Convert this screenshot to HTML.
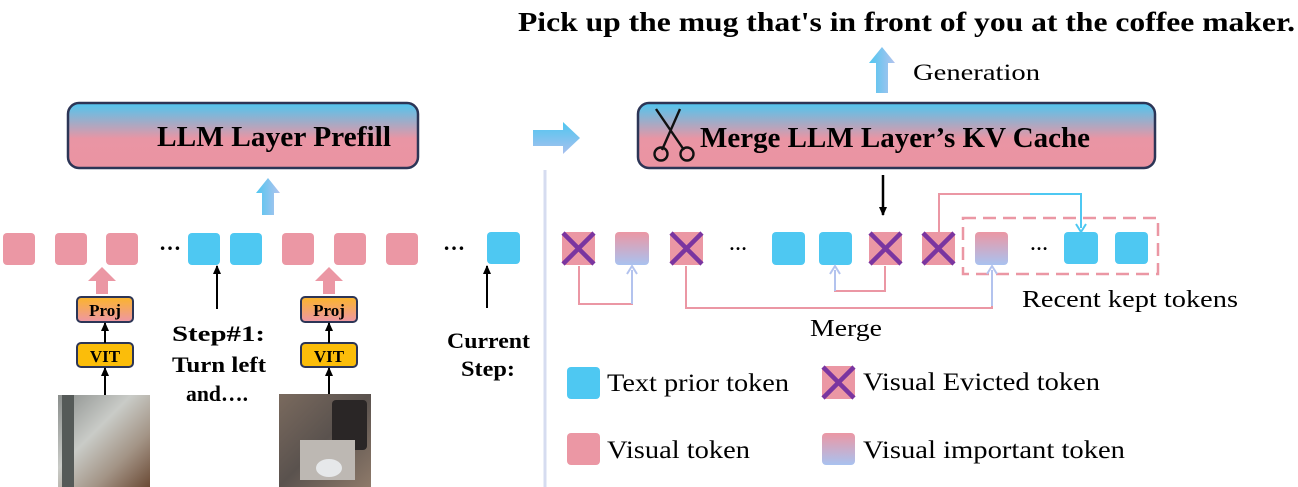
<!DOCTYPE html>
<html><head><meta charset="utf-8"><style>
body{margin:0;background:#fff;width:1298px;height:487px;overflow:hidden}
svg{display:block}
.b{font-family:"Liberation Serif",serif;font-weight:bold}
.r{font-family:"Liberation Serif",serif}
</style></head><body>
<svg width="1298" height="487" viewBox="0 0 1298 487" xmlns="http://www.w3.org/2000/svg">
<defs>
<linearGradient id="box" x1="0" y1="0" x2="0" y2="1"><stop offset="0" stop-color="#4ec6f0"/><stop offset="0.55" stop-color="#e995a4"/><stop offset="1" stop-color="#eb94a2"/></linearGradient>
<linearGradient id="gt" x1="0" y1="0" x2="0" y2="1"><stop offset="0" stop-color="#eb97a4"/><stop offset="1" stop-color="#a9c2f0"/></linearGradient>
<linearGradient id="proj" x1="0" y1="0" x2="0" y2="1"><stop offset="0" stop-color="#fbb52a"/><stop offset="1" stop-color="#ee96a6"/></linearGradient>
<linearGradient id="ua" x1="0" y1="0" x2="1" y2="0"><stop offset="0" stop-color="#4ec6f0"/><stop offset="1" stop-color="#b3c3ee"/></linearGradient>
<linearGradient id="ra" x1="0" y1="0" x2="0" y2="1"><stop offset="0" stop-color="#4ec6f0"/><stop offset="1" stop-color="#a9c0ee"/></linearGradient>
<linearGradient id="img1" x1="0" y1="0" x2="1" y2="1"><stop offset="0" stop-color="#8a8e8c"/><stop offset="0.4" stop-color="#c9cbc7"/><stop offset="0.7" stop-color="#a39486"/><stop offset="1" stop-color="#6b4a35"/></linearGradient>
<linearGradient id="img2" x1="0" y1="0" x2="1" y2="1"><stop offset="0" stop-color="#7a6a5e"/><stop offset="0.5" stop-color="#5a524e"/><stop offset="1" stop-color="#8e7a6a"/></linearGradient>
<marker id="ak" markerWidth="9" markerHeight="8" refX="8" refY="4" orient="auto" markerUnits="userSpaceOnUse"><path d="M0,0 L9,4 L0,8z" fill="#000"/></marker>
</defs>

<text x="518" y="31" class="b" font-size="27" textLength="777" lengthAdjust="spacingAndGlyphs">Pick up the mug that's in front of you at the coffee maker.</text>

<rect x="68" y="103" width="350" height="65" rx="11" fill="url(#box)" stroke="#2c3556" stroke-width="2.5"/>
<text x="157" y="146" class="b" font-size="28" textLength="234" lengthAdjust="spacingAndGlyphs">LLM Layer Prefill</text>
<rect x="638" y="103" width="517" height="65" rx="11" fill="url(#box)" stroke="#2c3556" stroke-width="2.5"/>
<text x="700" y="147" class="b" font-size="29" textLength="390" lengthAdjust="spacingAndGlyphs">Merge LLM Layer’s KV Cache</text>
<g stroke="#111" stroke-width="2.4" fill="none">
<path d="M656 109 L684 150 M680 109 L662 150"/>
<circle cx="661" cy="154" r="6.5"/><circle cx="687" cy="154" r="6.5"/>
</g>

<path d="M533 130 H563 V122 L580 138 L563 154 V146 H533z" fill="url(#ra)"/>
<path d="M876 93 V63 H869 L882 47 L895 63 H888 V93z" fill="url(#ua)"/>
<text x="913" y="80" class="r" font-size="23" textLength="127" lengthAdjust="spacingAndGlyphs">Generation</text>
<path d="M262 215 V193 H256 L268 178 L280 193 H274 V215z" fill="url(#ua)"/>

<line x1="545" y1="170" x2="545" y2="487" stroke="#d6dcf0" stroke-width="3"/>

<g fill="#eb97a4">
<rect x="3" y="233" width="32" height="32" rx="4"/><rect x="55" y="233" width="32" height="32" rx="4"/><rect x="106" y="233" width="32" height="32" rx="4"/>
<rect x="282" y="233" width="32" height="32" rx="4"/><rect x="334" y="233" width="32" height="32" rx="4"/><rect x="386" y="233" width="32" height="32" rx="4"/>
</g>
<g fill="#4ec8f2">
<rect x="188" y="233" width="32" height="32" rx="4"/><rect x="230" y="233" width="32" height="32" rx="4"/><rect x="487" y="232" width="33" height="32" rx="4"/>
</g>
<text x="170" y="250" class="b" font-size="22" text-anchor="middle">…</text>
<text x="454" y="250" class="b" font-size="22" text-anchor="middle">…</text>

<path d="M96 294 V281 H88 L102 267 L116 281 H108 V294z" fill="#eb97a4"/>
<path d="M323 294 V281 H315 L329 267 L343 281 H335 V294z" fill="#eb97a4"/>

<rect x="77" y="297" width="56" height="25" rx="4" fill="url(#proj)" stroke="#2c3556" stroke-width="2"/>
<text x="105" y="316" class="b" font-size="17" text-anchor="middle">Proj</text>
<rect x="77" y="343" width="56" height="24" rx="4" fill="#fbbd0a" stroke="#2c3556" stroke-width="2"/>
<text x="105" y="362" class="b" font-size="17" text-anchor="middle">VIT</text>
<rect x="301" y="297" width="56" height="25" rx="4" fill="url(#proj)" stroke="#2c3556" stroke-width="2"/>
<text x="329" y="316" class="b" font-size="17" text-anchor="middle">Proj</text>
<rect x="301" y="343" width="56" height="24" rx="4" fill="#fbbd0a" stroke="#2c3556" stroke-width="2"/>
<text x="329" y="362" class="b" font-size="17" text-anchor="middle">VIT</text>
<g stroke="#000" stroke-width="2" marker-end="url(#ak)">
<line x1="105" y1="343" x2="105" y2="323"/><line x1="105" y1="395" x2="105" y2="368"/>
<line x1="329" y1="343" x2="329" y2="323"/><line x1="329" y1="395" x2="329" y2="368"/>
<line x1="217" y1="309" x2="217" y2="266"/><line x1="487" y1="308" x2="487" y2="266"/>
</g>
<rect x="58" y="395" width="92" height="92" fill="url(#img1)"/>
<rect x="62" y="395" width="12" height="92" fill="#555a58"/>
<rect x="279" y="394" width="92" height="93" fill="url(#img2)"/>
<rect x="332" y="400" width="35" height="50" rx="4" fill="#2a2626"/>
<rect x="300" y="440" width="55" height="40" fill="#bdb8b3"/>
<ellipse cx="329" cy="468" rx="13" ry="9" fill="#e6e8ea"/>

<text class="b" font-size="22"><tspan x="172" y="341" textLength="93" lengthAdjust="spacingAndGlyphs">Step#1:</tspan><tspan x="172" y="372" textLength="94" lengthAdjust="spacingAndGlyphs">Turn left</tspan><tspan x="186" y="401" textLength="62" lengthAdjust="spacingAndGlyphs">and….</tspan></text>
<text class="b" font-size="22"><tspan x="447" y="348" textLength="83" lengthAdjust="spacingAndGlyphs">Current</tspan><tspan x="461" y="376" textLength="54" lengthAdjust="spacingAndGlyphs">Step:</tspan></text>

<g fill="#eb97a4"><rect x="562" y="232" width="33" height="33" rx="4"/><rect x="670" y="232" width="33" height="33" rx="4"/><rect x="869" y="232" width="33" height="33" rx="4"/><rect x="922" y="232" width="33" height="33" rx="4"/></g>
<g fill="url(#gt)"><rect x="615" y="232" width="34" height="33" rx="4"/><rect x="975" y="232" width="33" height="33" rx="4"/></g>
<g fill="#4ec8f2"><rect x="772" y="232" width="33" height="33" rx="4"/><rect x="819" y="232" width="33" height="33" rx="4"/><rect x="1064" y="232" width="34" height="32" rx="4"/><rect x="1115" y="232" width="33" height="32" rx="4"/></g>
<g stroke="#7a35a0" stroke-width="4.5">
<path d="M563 233 L594 264 M594 233 L563 264"/><path d="M671 233 L702 264 M702 233 L671 264"/>
<path d="M870 233 L901 264 M901 233 L870 264"/><path d="M923 233 L954 264 M954 233 L923 264"/>
</g>
<text x="738" y="250" class="b" font-size="18" text-anchor="middle">…</text>
<text x="1039" y="250" class="b" font-size="18" text-anchor="middle">…</text>

<rect x="963" y="218" width="195" height="56" fill="none" stroke="#eb97a4" stroke-width="2.5" stroke-dasharray="13,7"/>
<line x1="883" y1="175" x2="883" y2="215" stroke="#000" stroke-width="2.5" marker-end="url(#ak)"/>

<g fill="none" stroke-width="2">
<path d="M579 266 V304 H632 V270" stroke="#eb97a4"/>
<path d="M632 304 V270" stroke="#b3c3ee"/><path d="M627 274 L632 266 L637 274" stroke="#b3c3ee"/>
<path d="M686 266 V308 H992 V270" stroke="#eb97a4"/>
<path d="M992 306 V270" stroke="#b3c3ee"/><path d="M987 274 L992 266 L997 274" stroke="#b3c3ee"/>
<path d="M885 266 V291 H835 V270" stroke="#eb97a4"/>
<path d="M835 291 V270" stroke="#b3c3ee"/><path d="M830 274 L835 266 L840 274" stroke="#b3c3ee"/>
<path d="M939 232 V194 H1081 V228" stroke="#eb97a4"/>
<path d="M1030 194 H1081 V228" stroke="#4ec8f2"/><path d="M1076 224 L1081 232 L1086 224" stroke="#4ec8f2"/>
</g>
<text x="810" y="336" class="r" font-size="24" textLength="72" lengthAdjust="spacingAndGlyphs">Merge</text>
<text x="1022" y="307" class="r" font-size="24" textLength="216" lengthAdjust="spacingAndGlyphs">Recent kept tokens</text>

<rect x="567" y="367" width="33" height="32" rx="4" fill="#4ec8f2"/>
<text x="607" y="391" class="r" font-size="25" textLength="182" lengthAdjust="spacingAndGlyphs">Text prior token</text>
<rect x="822" y="366" width="33" height="33" rx="4" fill="#eb97a4"/>
<path d="M823 367 L854 398 M854 367 L823 398" stroke="#7a35a0" stroke-width="4.5"/>
<text x="863" y="390" class="r" font-size="25" textLength="237" lengthAdjust="spacingAndGlyphs">Visual Evicted token</text>
<rect x="567" y="433" width="33" height="32" rx="4" fill="#eb97a4"/>
<text x="607" y="458" class="r" font-size="25" textLength="143" lengthAdjust="spacingAndGlyphs">Visual token</text>
<rect x="822" y="433" width="33" height="32" rx="4" fill="url(#gt)"/>
<text x="863" y="458" class="r" font-size="25" textLength="262" lengthAdjust="spacingAndGlyphs">Visual important token</text>
</svg>
</body></html>
